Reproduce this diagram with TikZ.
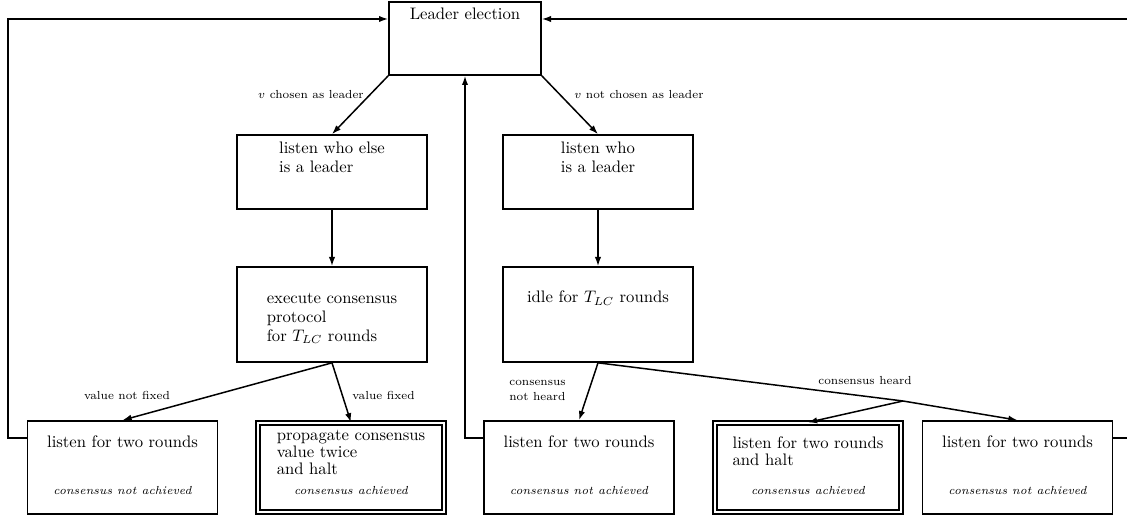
\documentclass[tikz,border=0pt]{standalone}
\usetikzlibrary{arrows.meta,calc}
\begin{document}
\begin{tikzpicture}[x=0.6pt,y=-0.6pt,
  box/.style={draw, line width=1pt, inner sep=0pt, minimum width=114pt},
  dbox/.style={draw, double, double distance=1.6pt, line width=0.75pt, inner sep=0pt,
    minimum width=111.6pt, minimum height=53.4pt},
  bbox/.style={box, minimum height=55.8pt},
  txt/.style={inner sep=0pt, align=left},
  note/.style={inner sep=0pt, font=\scriptsize\itshape},
  lbl/.style={inner sep=0pt, font=\scriptsize, align=left},
  arr/.style={line width=0.9pt, -{Latex[length=5.5pt,width=3.8pt]}},
  ln/.style={line width=0.9pt}]
\useasboundingbox (0,0) rectangle (1127,517);

% boxes
\node[box, minimum width=91.2pt, minimum height=43.8pt] (lead) at (465,38.5) {};
\node[box, minimum height=44.4pt] (lc) at (332,172) {};
\node[box, minimum height=44.4pt] (lnb) at (598,172) {};
\node[box, minimum height=57pt] (exec) at (332,314.5) {};
\node[box, minimum height=57pt] (idle) at (598,314.5) {};
\node[bbox] (b1) at (122.5,467.5) {};
\node[dbox] (b2) at (351,467.5) {};
\node[bbox] (b3) at (579,467.5) {};
\node[dbox] (b4) at (808,467.5) {};
\node[bbox] (b5) at (1017.5,467.5) {};

% texts
\node[txt, anchor=base] (tlead) at (465,20) {Leader election};
\node[txt, anchor=north] (tlc) at (332,141.4) {listen who else\\[-0.6pt]is a leader};
\node[txt, anchor=north] (tln) at (598,141.4) {listen who\\[-0.6pt]is a leader};
\node[txt, anchor=north] (texec) at (332,292.7) {execute consensus\\[-0.6pt]protocol\\[-0.6pt]for $T_{LC}$ rounds};
\node[txt, anchor=base] (tidle) at (598,303) {idle for $T_{LC}$ rounds};
\node[txt, anchor=base] (tb1) at (122.5,448) {listen for two rounds};
\node[txt, anchor=north] (tb2) at (351,429.7) {propagate consensus\\[-1.8pt]value twice\\[-1.8pt]and halt};
\node[txt, anchor=base] (tb3) at (579,448) {listen for two rounds};
\node[txt, anchor=north] (tb4) at (808,436.4) {listen for two rounds\\[-1.8pt]and halt};
\node[txt, anchor=base] (tb5) at (1017.5,448) {listen for two rounds};
\node[note, anchor=base] (nb1) at (122.5,495) {consensus not achieved};
\node[note, anchor=base] (nb2) at (351,495) {consensus achieved};
\node[note, anchor=base] (nb3) at (579,495) {consensus not achieved};
\node[note, anchor=base] (nb4) at (808,495) {consensus achieved};
\node[note, anchor=base] (nb5) at (1017.5,495) {consensus not achieved};

% labels
\node[lbl, anchor=base east] (l1) at (364,99) {$v$ chosen as leader};
\node[lbl, anchor=base west] (l2) at (574,99) {$v$ not chosen as leader};
\node[lbl, anchor=base] (l3) at (127,400) {value not fixed};
\node[lbl, anchor=base west] (l4) at (352,400) {value fixed};
\node[lbl, anchor=north west] (l5) at (509,379.7) {consensus\\[1pt]not heard};
\node[lbl, anchor=base west] (l6) at (818,385) {consensus heard};

% helper coordinates
\coordinate (yl) at (0,438);
\coordinate (lx) at (8,19);
\coordinate (rx) at (1140,19);
\coordinate (jn) at (903,401);

% connectors
\draw[arr] (lead.south west) -- (lc.north);
\draw[arr] (lead.south east) -- (lnb.north);
\draw[arr] (lc.south) -- (exec.north);
\draw[arr] (lnb.south) -- (idle.north);
\draw[arr] (exec.south) -- (b1.north);
\draw[arr] (exec.south) -- (b2.north);
\draw[arr] (idle.south) -- (b3.north);
\draw[ln] (idle.south) -- (jn);
\draw[arr] (jn) -- (b4.north);
\draw[arr] (jn) -- (b5.north);
\draw[arr] (b1.west |- yl) -| (lx) -- (lead.west |- lx);
\draw[arr] (b5.east |- yl) -| (rx) -- (lead.east |- rx);
\draw[arr] (b3.west |- yl) -| (lead.south);
\end{tikzpicture}
\end{document}
